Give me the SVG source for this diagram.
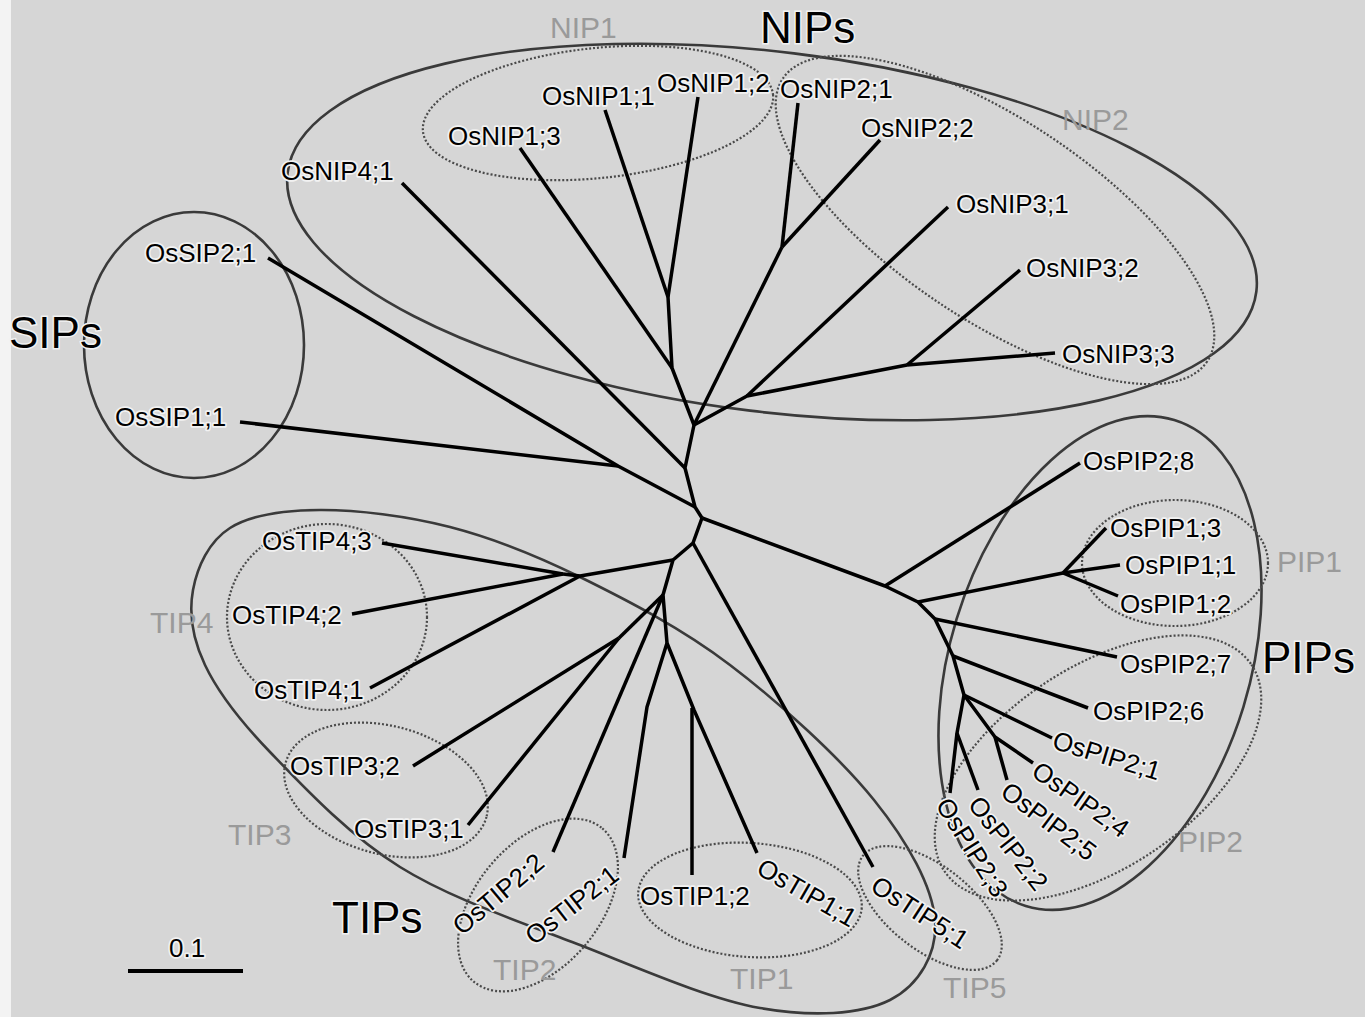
<svg xmlns="http://www.w3.org/2000/svg" width="1365" height="1017" viewBox="0 0 1365 1017">
<style>
.bg{fill:#d6d6d6}
.br{fill:none;stroke:#000;stroke-width:3.5;stroke-linejoin:round;stroke-linecap:butt}
.grp{fill:none;stroke:#3a3a3a;stroke-width:2.6}
.sub{fill:none;stroke:#4a4a4a;stroke-width:2.2;stroke-dasharray:2 2}
.lb{font-family:"Liberation Sans",Arial,sans-serif;font-size:26px;fill:#000;stroke:#f2f2f2;stroke-width:3.5;paint-order:stroke;stroke-linejoin:round}
.big{font-family:"Liberation Sans",Arial,sans-serif;font-size:44px;fill:#000;stroke:#f2f2f2;stroke-width:3;paint-order:stroke}
.gl{font-family:"Liberation Sans",Arial,sans-serif;font-size:30px;fill:#9a9a9a}
</style>
<rect class="bg" x="0" y="0" width="1365" height="1017"/>
<rect x="0" y="0" width="11" height="1017" fill="#f3f3f3"/>

<g id="groups">
<ellipse id="NIPs-loop" class="grp" cx="772" cy="232" rx="488" ry="180" transform="rotate(7 772 232)"/>
<ellipse id="NIP1-loop" class="sub" cx="598" cy="113" rx="176" ry="65" transform="rotate(-6 598 113)"/>
<ellipse id="NIP2-loop" class="sub" cx="995" cy="220" rx="255" ry="100" transform="rotate(33.7 995 220)"/>
<ellipse id="SIPs-loop" class="grp" cx="194" cy="345" rx="110" ry="133"/>
<ellipse id="PIPs-loop" class="grp" cx="1100" cy="663" rx="150" ry="254" transform="rotate(17 1100 663)"/>
<ellipse id="PIP1-loop" class="sub" cx="1175" cy="563" rx="93" ry="63"/>
<ellipse id="PIP2-loop" class="sub" cx="1098" cy="768" rx="185" ry="100" transform="rotate(-34 1098 768)"/>
<path id="TIPs-loop" class="grp" d="M193,590 C197.2,567.2 208.8,541.3 230,528 C251.2,514.7 283.3,510.2 320,510 C356.7,509.8 406.7,515.8 450,527 C493.3,538.2 533.3,554 580,577 C626.7,600 681,627.8 730,665 C779,702.2 839.8,757.5 874,800 C908.2,842.5 932.3,886.7 935,920 C937.7,953.3 919.2,985.3 890,1000 C860.8,1014.7 811.7,1017.2 760,1008 C708.3,998.8 640,968.5 580,945 C520,921.5 451.7,899.2 400,867 C348.3,834.8 302.5,785.7 270,752 C237.5,718.3 217.8,692 205,665 C192.2,638 188.8,612.8 193,590 Z"/>
<ellipse id="TIP4-loop" class="sub" cx="327" cy="617" rx="100" ry="93"/>
<ellipse id="TIP3-loop" class="sub" cx="386" cy="790" rx="104" ry="64" transform="rotate(15 386 790)"/>
<ellipse id="TIP2-loop" class="sub" cx="538" cy="905" rx="100" ry="62" transform="rotate(-50 538 905)"/>
<ellipse id="TIP1-loop" class="sub" cx="750" cy="900" rx="112" ry="57" transform="rotate(4 750 900)"/>
<ellipse id="TIP5-loop" class="sub" cx="930" cy="908" rx="85" ry="42" transform="rotate(38 930 908)"/>
</g>

<g id="connectors" class="br">
<polyline points="694,425 685,468 695,507 702,518"/>
<line x1="402" y1="183" x2="685" y2="468"/>
<line x1="520" y1="148" x2="672" y2="368"/>
<line x1="605" y1="110" x2="668" y2="297"/>
<line x1="698" y1="97" x2="668" y2="297"/>
<polyline points="668,297 672,368 694,425"/>
<line x1="798" y1="103" x2="782" y2="247"/>
<line x1="880" y1="140" x2="782" y2="247"/>
<line x1="782" y1="247" x2="694" y2="425"/>
<line x1="948" y1="207" x2="747" y2="396"/>
<line x1="1020" y1="270" x2="907" y2="365"/>
<line x1="1055" y1="353" x2="907" y2="365"/>
<polyline points="907,365 747,396 694,425"/>
<polyline points="268,258 618,466 695,507"/>
<line x1="240" y1="422" x2="618" y2="466"/>
<polyline points="702,518 885,586 918,602 935,619 953,656 964,695"/>
<line x1="885" y1="586" x2="1080" y2="463"/>
<line x1="918" y1="602" x2="1063" y2="573"/>
<line x1="1063" y1="573" x2="1106" y2="528"/>
<line x1="1063" y1="573" x2="1120" y2="565"/>
<line x1="1063" y1="573" x2="1118" y2="596"/>
<line x1="935" y1="619" x2="1117" y2="657"/>
<line x1="953" y1="656" x2="1088" y2="708"/>
<line x1="964" y1="695" x2="1052" y2="738"/>
<polyline points="964,695 995,737 1033,763"/>
<line x1="995" y1="737" x2="1007" y2="780"/>
<polyline points="964,695 957,733 950,793"/>
<line x1="957" y1="733" x2="978" y2="790"/>
<polyline points="702,518 693,543 673,560 663,595 667,643"/>
<line x1="693" y1="543" x2="873" y2="867"/>
<polyline points="673,560 580,576 563,574"/>
<line x1="580" y1="576" x2="370" y2="688"/>
<line x1="563" y1="574" x2="382" y2="543"/>
<line x1="563" y1="574" x2="352" y2="614"/>
<line x1="663" y1="595" x2="619" y2="638"/>
<line x1="619" y1="638" x2="413" y2="766"/>
<line x1="619" y1="638" x2="468" y2="825"/>
<line x1="663" y1="595" x2="553" y2="852"/>
<polyline points="667,643 647,707 624,858"/>
<polyline points="667,643 694,710 757,853"/>
<line x1="692" y1="708" x2="692" y2="875"/>
<line x1="128" y1="971" x2="243" y2="971" stroke-width="4"/>
</g>

<g id="labels-group">
<text class="big" x="760" y="43">NIPs</text>
<text class="big" x="9" y="348">SIPs</text>
<text class="big" x="1262" y="673">PIPs</text>
<text class="big" x="332" y="933">TIPs</text>
<text class="gl" x="550" y="38">NIP1</text>
<text class="gl" x="1062" y="130">NIP2</text>
<text class="gl" x="1277" y="572">PIP1</text>
<text class="gl" x="1178" y="852">PIP2</text>
<text class="gl" x="150" y="633">TIP4</text>
<text class="gl" x="228" y="845">TIP3</text>
<text class="gl" x="493" y="980">TIP2</text>
<text class="gl" x="730" y="989">TIP1</text>
<text class="gl" x="943" y="998">TIP5</text>
<text class="lb" x="169" y="957">0.1</text>
</g>

<g id="OsNIP4_1"><text class="lb" x="281" y="180">OsNIP4;1</text></g>
<g id="OsNIP1_3"><text class="lb" x="448" y="145">OsNIP1;3</text></g>
<g id="OsNIP1_1"><text class="lb" x="542" y="105">OsNIP1;1</text></g>
<g id="OsNIP1_2"><text class="lb" x="657" y="92">OsNIP1;2</text></g>
<g id="OsNIP2_1"><text class="lb" x="780" y="98">OsNIP2;1</text></g>
<g id="OsNIP2_2"><text class="lb" x="861" y="137">OsNIP2;2</text></g>
<g id="OsNIP3_1"><text class="lb" x="956" y="213">OsNIP3;1</text></g>
<g id="OsNIP3_2"><text class="lb" x="1026" y="277">OsNIP3;2</text></g>
<g id="OsNIP3_3"><text class="lb" x="1062" y="363">OsNIP3;3</text></g>
<g id="OsSIP2_1"><text class="lb" x="145" y="262">OsSIP2;1</text></g>
<g id="OsSIP1_1"><text class="lb" x="115" y="426">OsSIP1;1</text></g>
<g id="OsPIP2_8"><text class="lb" x="1083" y="470">OsPIP2;8</text></g>
<g id="OsPIP1_3"><text class="lb" x="1110" y="537">OsPIP1;3</text></g>
<g id="OsPIP1_1"><text class="lb" x="1125" y="574">OsPIP1;1</text></g>
<g id="OsPIP1_2"><text class="lb" x="1120" y="613">OsPIP1;2</text></g>
<g id="OsPIP2_7"><text class="lb" x="1120" y="673">OsPIP2;7</text></g>
<g id="OsPIP2_6"><text class="lb" x="1093" y="720">OsPIP2;6</text></g>
<g id="OsPIP2_1"><text class="lb" transform="translate(1051 748) rotate(17)">OsPIP2;1</text></g>
<g id="OsPIP2_4"><text class="lb" transform="translate(1030 775) rotate(35)">OsPIP2;4</text></g>
<g id="OsPIP2_5"><text class="lb" transform="translate(999 795) rotate(37)">OsPIP2;5</text></g>
<g id="OsPIP2_2"><text class="lb" transform="translate(967 805) rotate(52)">OsPIP2;2</text></g>
<g id="OsPIP2_3"><text class="lb" transform="translate(935 805) rotate(58)">OsPIP2;3</text></g>
<g id="OsTIP4_3"><text class="lb" x="262" y="550">OsTIP4;3</text></g>
<g id="OsTIP4_2"><text class="lb" x="232" y="624">OsTIP4;2</text></g>
<g id="OsTIP4_1"><text class="lb" x="254" y="699">OsTIP4;1</text></g>
<g id="OsTIP3_2"><text class="lb" x="290" y="775">OsTIP3;2</text></g>
<g id="OsTIP3_1"><text class="lb" x="354" y="838">OsTIP3;1</text></g>
<g id="OsTIP2_2"><text class="lb" transform="translate(462 936) rotate(-40)">OsTIP2;2</text></g>
<g id="OsTIP2_1"><text class="lb" transform="translate(534 946) rotate(-38)">OsTIP2;1</text></g>
<g id="OsTIP1_2"><text class="lb" x="640" y="905">OsTIP1;2</text></g>
<g id="OsTIP1_1"><text class="lb" transform="translate(755 873) rotate(30)">OsTIP1;1</text></g>
<g id="OsTIP5_1"><text class="lb" transform="translate(869 890) rotate(33)">OsTIP5;1</text></g>
</svg>
